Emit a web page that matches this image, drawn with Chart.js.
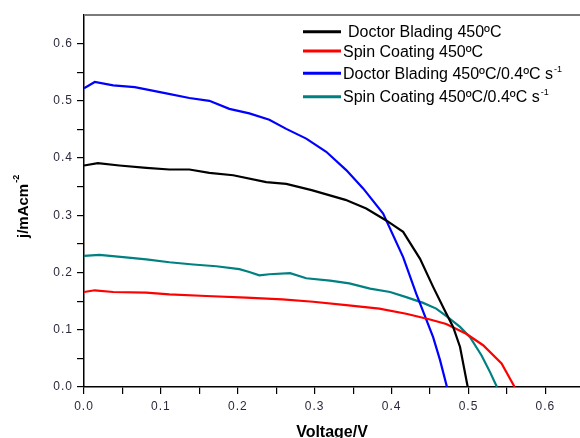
<!DOCTYPE html>
<html>
<head>
<meta charset="utf-8">
<script src="https://cdn.jsdelivr.net/npm/chart.js@4/dist/chart.umd.min.js"></script>
<style>
  html, body { margin: 0; padding: 0; background: #fff; }
  #wrap { width: 580px; height: 438px; position: relative; }
</style>
</head>
<body>
<div id="wrap"><canvas id="chart" width="580" height="438"></canvas></div>
<script>
// ====== Data ======
const seriesNames = ["Doctor Blading 450ºC", "Spin Coating 450ºC", "Doctor Blading 450ºC/0.4ºC s", "Spin Coating 450ºC/0.4ºC s"];
const seriesSup = ["", "", "-1", "-1"];
const seriesColors = ["#000000", "#ff0000", "#0000ff", "#008080"];

const dbV = [0, 0.018, 0.046, 0.081, 0.111, 0.137, 0.163, 0.194, 0.237, 0.263, 0.296, 0.34, 0.367, 0.393, 0.415, 0.437, 0.454, 0.469, 0.480, 0.489, 0.499];
const dbJ = [0.387, 0.391, 0.387, 0.383, 0.380, 0.380, 0.374, 0.370, 0.358, 0.355, 0.344, 0.327, 0.312, 0.291, 0.271, 0.224, 0.175, 0.134, 0.105, 0.070, 0.0];

const scV = [0, 0.014, 0.038, 0.081, 0.111, 0.159, 0.211, 0.258, 0.298, 0.341, 0.384, 0.419, 0.450, 0.471, 0.497, 0.519, 0.543, 0.56];
const scJ = [0.166, 0.169, 0.166, 0.165, 0.162, 0.159, 0.156, 0.153, 0.149, 0.143, 0.137, 0.128, 0.118, 0.110, 0.093, 0.073, 0.041, 0.0];

const dbRateV = [0, 0.014, 0.038, 0.066, 0.107, 0.137, 0.163, 0.189, 0.215, 0.241, 0.263, 0.289, 0.315, 0.341, 0.363, 0.389, 0.415, 0.432, 0.454, 0.463, 0.472];
const dbRateJ = [0.522, 0.533, 0.527, 0.524, 0.513, 0.505, 0.500, 0.486, 0.478, 0.467, 0.451, 0.434, 0.411, 0.379, 0.347, 0.303, 0.227, 0.163, 0.087, 0.047, 0.0];

const scRateV = [0, 0.020, 0.051, 0.081, 0.111, 0.142, 0.172, 0.202, 0.215, 0.228, 0.241, 0.268, 0.289, 0.320, 0.345, 0.372, 0.398, 0.419, 0.441, 0.458, 0.473, 0.489, 0.502, 0.517, 0.528, 0.537];
const scRateJ = [0.229, 0.231, 0.227, 0.223, 0.218, 0.214, 0.211, 0.206, 0.201, 0.195, 0.197, 0.199, 0.190, 0.186, 0.181, 0.172, 0.166, 0.157, 0.147, 0.137, 0.122, 0.105, 0.087, 0.055, 0.026, 0.0];

const xTicks = [0, 0.05, 0.1, 0.15, 0.2, 0.25, 0.3, 0.35, 0.4, 0.45, 0.5, 0.55, 0.6];
const yTicks = [0, 0.05, 0.1, 0.15, 0.2, 0.25, 0.3, 0.35, 0.4, 0.45, 0.5, 0.55, 0.6];
const xTitle = "Voltage/V";
const yTitle = "j/mAcm";
const yTitleSup = "-2";

// ====== Helpers ======
const FONT = '"Liberation Sans", Arial, sans-serif';
function toPoints(xs, ys) {
  return xs.map((x, i) => ({ x: x, y: ys[i] }));
}
function isMajor(v) {
  return Math.abs(Math.round(v * 10) - v * 10) < 1e-6;
}

const allSeries = [[dbV, dbJ], [scV, scJ], [dbRateV, dbRateJ], [scRateV, scRateJ]];
const datasets = allSeries.map((s, i) => ({
  label: seriesNames[i],
  data: toPoints(s[0], s[1]),
  borderColor: seriesColors[i],
  backgroundColor: seriesColors[i],
  borderWidth: 2.2,
  showLine: true,
  pointRadius: 0,
  tension: 0
}));

// ====== Extras: titles, legend, top frame ======
const extras = {
  id: 'extras',
  beforeDraw(chart) {
    chart.ctx.letterSpacing = '1px';
  },
  afterDraw(chart) {
    const ctx = chart.ctx;
    const a = chart.chartArea;
    ctx.save();
    ctx.letterSpacing = '0px';

    // top frame line
    ctx.strokeStyle = '#7a7a7a';
    ctx.lineWidth = 2;
    ctx.beginPath();
    ctx.moveTo(a.left, a.top);
    ctx.lineTo(a.right, a.top);
    ctx.stroke();

    // x title
    ctx.fillStyle = '#000';
    ctx.font = 'bold 16px ' + FONT;
    ctx.textAlign = 'center';
    ctx.textBaseline = 'alphabetic';
    ctx.fillText(xTitle, (a.left + a.right) / 2, 437);

    // y title (rotated, with superscript)
    ctx.save();
    ctx.translate(28, 210);
    ctx.rotate(-Math.PI / 2);
    ctx.textAlign = 'left';
    ctx.font = 'bold 15px ' + FONT;
    ctx.fillText(yTitle, -28, 0);
    const w = ctx.measureText(yTitle).width;
    ctx.font = 'bold 9px ' + FONT;
    ctx.fillText(yTitleSup, -28 + w + 1, -9);
    ctx.restore();

    // legend
    const rowsY = [31.7, 51, 73.3, 96.7];
    const textX = [348, 343, 343, 343];
    for (let i = 0; i < seriesNames.length; i++) {
      ctx.strokeStyle = seriesColors[i];
      ctx.lineWidth = 3;
      ctx.beginPath();
      ctx.moveTo(303, rowsY[i]);
      ctx.lineTo(341, rowsY[i]);
      ctx.stroke();
      ctx.fillStyle = '#000';
      ctx.font = '16px ' + FONT;
      ctx.textAlign = 'left';
      ctx.textBaseline = 'alphabetic';
      ctx.fillText(seriesNames[i], textX[i], rowsY[i] + 5.5);
      if (seriesSup[i]) {
        const tw = ctx.measureText(seriesNames[i]).width;
        ctx.font = '9px ' + FONT;
        ctx.fillText(seriesSup[i], textX[i] + tw + 1, rowsY[i] - 1.5);
      }
    }
    ctx.restore();
  }
};

// ====== Chart Setup ======
const ctx = document.getElementById("chart").getContext("2d");
const chart = new Chart(ctx, {
  type: "scatter",
  data: { datasets: datasets },
  options: {
    responsive: false,
    animation: false,
    devicePixelRatio: 1,
    layout: { padding: { top: 15, right: 0, left: 0, bottom: 0 } },
    plugins: {
      legend: { display: false },
      tooltip: { enabled: false }
    },
    scales: {
      x: {
        type: 'linear',
        min: 0,
        max: 0.645,
        afterBuildTicks: (s) => { s.ticks = xTicks.map(v => ({ value: v })); },
        afterFit: (s) => { s.height = 51; },
        border: { color: '#000', width: 1.5 },
        grid: { drawOnChartArea: false, drawTicks: true, tickLength: 7, color: '#000', lineWidth: 1.2 },
        ticks: {
          autoSkip: false,
          maxRotation: 0,
          padding: 5,
          color: '#2a2a3c',
          font: { family: FONT, size: 12 },
          callback: (v) => isMajor(v) ? v.toFixed(1) : ''
        }
      },
      y: {
        type: 'linear',
        min: 0,
        max: 0.65,
        afterBuildTicks: (s) => { s.ticks = yTicks.map(v => ({ value: v })); },
        afterFit: (s) => { s.width = 84; },
        border: { color: '#000', width: 1.5 },
        grid: { drawOnChartArea: false, drawTicks: true, tickLength: 7, color: '#000', lineWidth: 1.2 },
        ticks: {
          autoSkip: false,
          padding: 4,
          color: '#2a2a3c',
          font: { family: FONT, size: 12 },
          callback: (v) => isMajor(v) ? v.toFixed(1) : ''
        }
      }
    }
  },
  plugins: [extras]
});
</script>
</body>
</html>
